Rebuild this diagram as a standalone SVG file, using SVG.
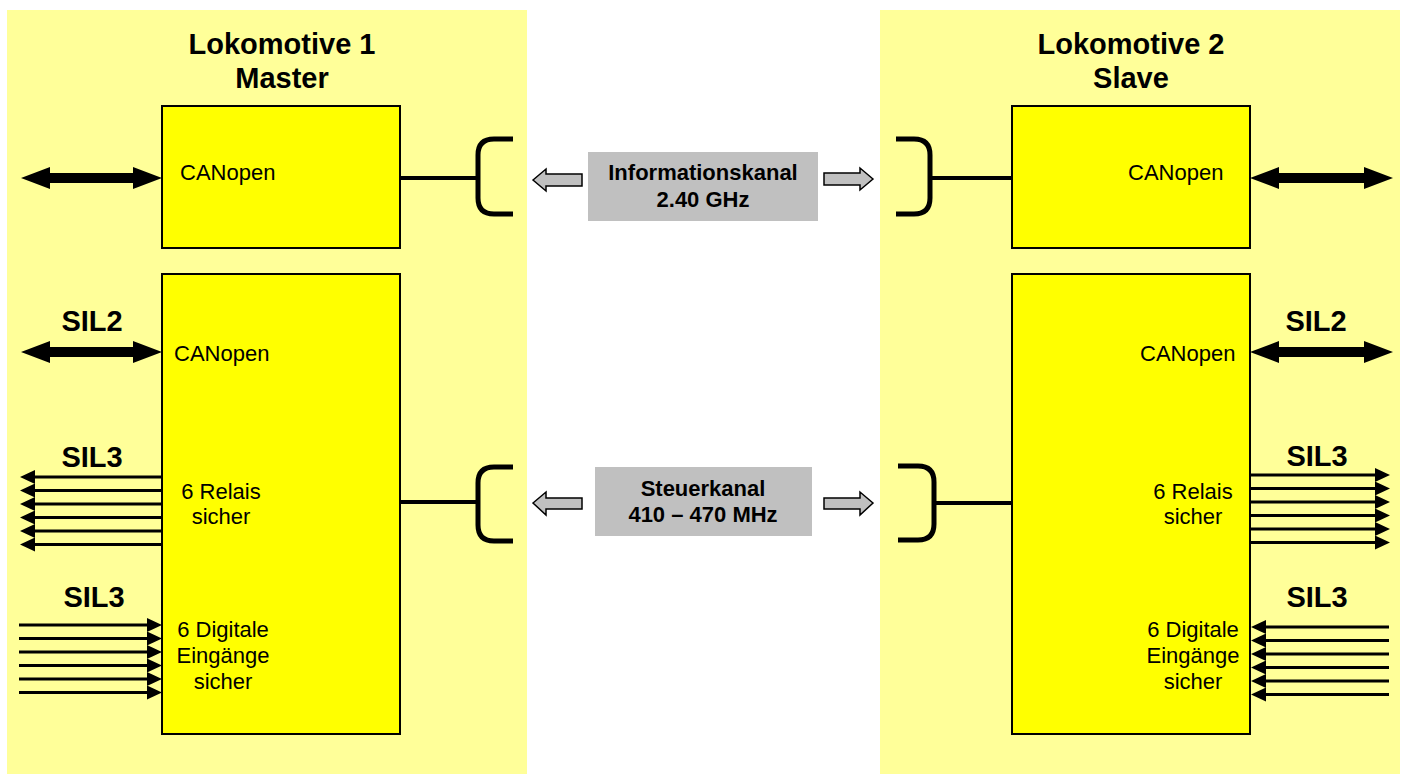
<svg xmlns="http://www.w3.org/2000/svg" width="1406" height="774" viewBox="0 0 1406 774">
  <style>
    .panel { fill: #FFFF99; stroke: none; }
    .box { fill: #FFFF00; stroke: #000; stroke-width: 2; }
    .chan { fill: #C0C0C0; stroke: none; }
    .title { font-family: "Liberation Sans", Arial, sans-serif; font-size: 29px; font-weight: bold; fill: #000; text-anchor: middle; }
    .sil { font-family: "Liberation Sans", Arial, sans-serif; font-size: 29px; font-weight: bold; fill: #000; text-anchor: middle; }
    .lbl { font-family: "Liberation Sans", Arial, sans-serif; font-size: 22px; fill: #000; }
    .mid { text-anchor: middle; }
    .chtxt { font-family: "Liberation Sans", Arial, sans-serif; font-size: 22px; font-weight: bold; fill: #000; text-anchor: middle; }
    .link { stroke: #000; stroke-width: 4; fill: none; }
    .bracket { stroke: #000; stroke-width: 5; fill: none; stroke-linecap: butt; }
    .sig { stroke: #000; stroke-width: 3; fill: none; marker-end: url(#head); }
    .bus { fill: #000; stroke: none; }
    .hollow { fill: #C0C0C0; stroke: #000; stroke-width: 1.5; }
  </style>
  <defs>
    <marker id="head" markerUnits="userSpaceOnUse" markerWidth="16" markerHeight="14" refX="7" refY="7" orient="auto">
      <path d="M0,0 L15,7 L0,14 z" fill="#000"/>
    </marker>
  </defs>

  <!-- locomotive panels -->
  <rect class="panel" x="7" y="10" width="520" height="764"/>
  <rect class="panel" x="880" y="10" width="520" height="764"/>

  <!-- Lokomotive 1 (Master) -->
  <g id="loco1-title">
    <text class="title" x="282" y="54">Lokomotive 1</text>
    <text class="title" x="282" y="88">Master</text>
  </g>
  <g id="loco1-info">
    <rect class="box" x="162" y="106" width="238" height="142"/>
    <text class="lbl" x="180" y="180">CANopen</text>
  </g>
  <g id="loco1-safety">
    <rect class="box" x="162" y="274" width="238" height="460"/>
    <text class="lbl" x="174" y="361">CANopen</text>
    <text class="lbl mid" x="221" y="499">6 Relais</text>
    <text class="lbl mid" x="221" y="524">sicher</text>
    <text class="lbl mid" x="223" y="637">6 Digitale</text>
    <text class="lbl mid" x="223" y="663">Eingänge</text>
    <text class="lbl mid" x="223" y="689">sicher</text>
  </g>
  <g id="loco1-sil">
    <text class="sil" x="92" y="331">SIL2</text>
    <text class="sil" x="92" y="467">SIL3</text>
    <text class="sil" x="94" y="607">SIL3</text>
  </g>

  <!-- Lokomotive 2 (Slave) -->
  <g id="loco2-title">
    <text class="title" x="1131" y="54">Lokomotive 2</text>
    <text class="title" x="1131" y="88">Slave</text>
  </g>
  <g id="loco2-info">
    <rect class="box" x="1012" y="106" width="238" height="142"/>
    <text class="lbl" x="1128" y="180">CANopen</text>
  </g>
  <g id="loco2-safety">
    <rect class="box" x="1012" y="274" width="238" height="460"/>
    <text class="lbl" x="1140" y="361">CANopen</text>
    <text class="lbl mid" x="1193" y="499">6 Relais</text>
    <text class="lbl mid" x="1193" y="524">sicher</text>
    <text class="lbl mid" x="1193" y="637">6 Digitale</text>
    <text class="lbl mid" x="1193" y="663">Eingänge</text>
    <text class="lbl mid" x="1193" y="689">sicher</text>
  </g>
  <g id="loco2-sil">
    <text class="sil" x="1316" y="331">SIL2</text>
    <text class="sil" x="1317" y="466">SIL3</text>
    <text class="sil" x="1317" y="607">SIL3</text>
  </g>

  <!-- radio channels -->
  <g id="channel-info">
    <rect class="chan" x="588" y="152" width="230" height="69"/>
    <text class="chtxt" x="703" y="180">Informationskanal</text>
    <text class="chtxt" x="703" y="207">2.40 GHz</text>
  </g>
  <g id="channel-control">
    <rect class="chan" x="595" y="467" width="217" height="69"/>
    <text class="chtxt" x="703" y="496">Steuerkanal</text>
    <text class="chtxt" x="703" y="522">410 – 470 MHz</text>
  </g>

  <g id="connectors">
    <!-- antenna links, left -->
    <line class="link" x1="400" y1="178" x2="478" y2="178"/>
    <path class="bracket" d="M513,139 L494,139 Q478,139 478,155 L478,198 Q478,214 494,214 L513,214"/>
    <line class="link" x1="400" y1="502" x2="478" y2="502"/>
    <path class="bracket" d="M513,467 L494,467 Q478,467 478,483 L478,525 Q478,541 494,541 L513,541"/>

    <!-- antenna links, right -->
    <line class="link" x1="930" y1="178" x2="1012" y2="178"/>
    <path class="bracket" d="M896,139 L914,139 Q930,139 930,155 L930,198 Q930,214 914,214 L896,214"/>
    <line class="link" x1="934" y1="503" x2="1012" y2="503"/>
    <path class="bracket" d="M898,466 L918,466 Q934,466 934,482 L934,524 Q934,540 918,540 L898,540"/>

    <!-- radio transfer arrows -->
    <polygon class="hollow" points="533,180 546,169 546,174 582,174 582,186 546,186 546,191"/>
    <polygon class="hollow" points="873,179 860,168 860,173 824,173 824,185 860,185 860,190"/>
    <polygon class="hollow" points="533,503 546,492 546,498 582,498 582,509 546,509 546,515"/>
    <polygon class="hollow" points="873,503 860,492 860,498 824,498 824,509 860,509 860,515"/>

    <!-- CANopen buses -->
    <polygon class="bus" points="21,178 50,167 50,173 133,173 133,167 162,178 133,189 133,183 50,183 50,189"/>
    <polygon class="bus" points="21,352 50,341 50,347 133,347 133,341 162,352 133,363 133,357 50,357 50,363"/>
    <polygon class="bus" points="1250,178 1279,167 1279,173 1364,173 1364,167 1393,178 1364,189 1364,183 1279,183 1279,189"/>
    <polygon class="bus" points="1250,352 1279,341 1279,347 1364,347 1364,341 1393,352 1364,363 1364,357 1279,357 1279,363"/>

    <!-- safe relay outputs, left -->
    <line class="sig" x1="162" y1="477" x2="28" y2="477"/>
    <line class="sig" x1="162" y1="490.5" x2="28" y2="490.5"/>
    <line class="sig" x1="162" y1="504" x2="28" y2="504"/>
    <line class="sig" x1="162" y1="517.5" x2="28" y2="517.5"/>
    <line class="sig" x1="162" y1="531" x2="28" y2="531"/>
    <line class="sig" x1="162" y1="544.5" x2="28" y2="544.5"/>

    <!-- safe digital inputs, left -->
    <line class="sig" x1="19" y1="625" x2="154" y2="625"/>
    <line class="sig" x1="19" y1="638.5" x2="154" y2="638.5"/>
    <line class="sig" x1="19" y1="652" x2="154" y2="652"/>
    <line class="sig" x1="19" y1="665.5" x2="154" y2="665.5"/>
    <line class="sig" x1="19" y1="679" x2="154" y2="679"/>
    <line class="sig" x1="19" y1="692.5" x2="154" y2="692.5"/>

    <!-- safe relay outputs, right -->
    <line class="sig" x1="1250" y1="475" x2="1382" y2="475"/>
    <line class="sig" x1="1250" y1="488.5" x2="1382" y2="488.5"/>
    <line class="sig" x1="1250" y1="502" x2="1382" y2="502"/>
    <line class="sig" x1="1250" y1="515.5" x2="1382" y2="515.5"/>
    <line class="sig" x1="1250" y1="529" x2="1382" y2="529"/>
    <line class="sig" x1="1250" y1="542.5" x2="1382" y2="542.5"/>

    <!-- safe digital inputs, right -->
    <line class="sig" x1="1389" y1="627" x2="1259" y2="627"/>
    <line class="sig" x1="1389" y1="640.5" x2="1259" y2="640.5"/>
    <line class="sig" x1="1389" y1="654" x2="1259" y2="654"/>
    <line class="sig" x1="1389" y1="667.5" x2="1259" y2="667.5"/>
    <line class="sig" x1="1389" y1="681" x2="1259" y2="681"/>
    <line class="sig" x1="1389" y1="694.5" x2="1259" y2="694.5"/>
  </g>
</svg>
